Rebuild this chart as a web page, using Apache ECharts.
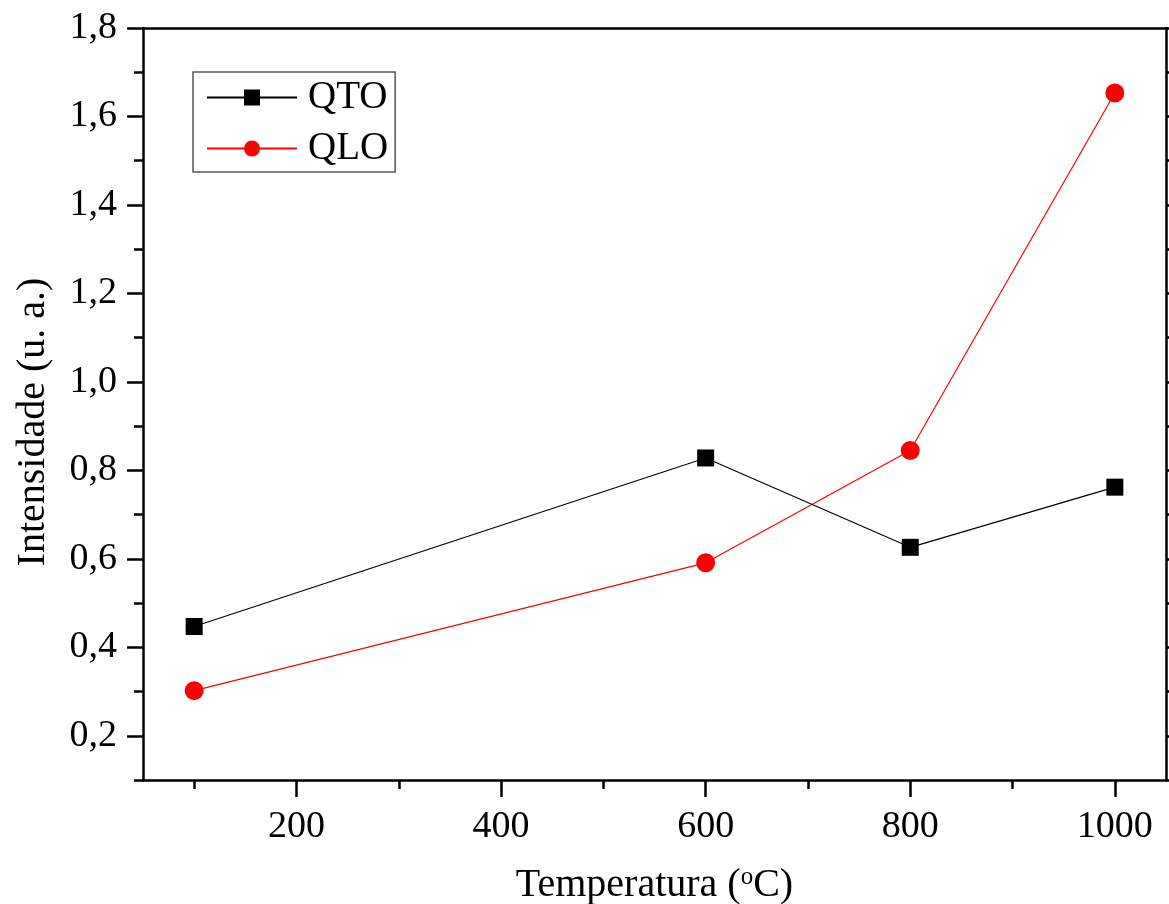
<!DOCTYPE html>
<html>
<head>
<meta charset="utf-8">
<title>Intensidade vs Temperatura</title>
<script src="https://cdn.jsdelivr.net/npm/echarts@6/dist/echarts.min.js"></script>
<style>
  html, body { margin: 0; padding: 0; background: #fff; }
  #chart { width: 1169px; height: 904px; }
</style>
</head>
<body>
<div id="chart"></div>
<script>
// Temperatures (°C) and measured intensities (a.u.)
const temperatures = [100, 600, 800, 1000];
const qtoValues = [0.447, 0.828, 0.626, 0.762];
const qloValues = [0.302, 0.591, 0.845, 1.653];

// Axis ticks
const xMajorTicks = [200, 400, 600, 800, 1000];
const xMinorTicks = [100, 300, 500, 700, 900];
const yMajorTicks = [0.2, 0.4, 0.6, 0.8, 1.0, 1.2, 1.4, 1.6, 1.8];
const yMinorTicks = [0.1, 0.3, 0.5, 0.7, 0.9, 1.1, 1.3, 1.5, 1.7];

const X_MIN = 50, X_MAX = 1050;
const Y_MIN = 0.1, Y_MAX = 1.8;

const FONT = '"Liberation Serif", "Times New Roman", serif';
const AXIS_W = 2.5;

function pairs(xs, ys) {
  return xs.map((x, i) => [x, ys[i]]);
}

const chart = echarts.init(document.getElementById('chart'), null, { renderer: 'canvas' });

const lineStyleAxis = { color: '#000', width: AXIS_W };

chart.setOption({
  backgroundColor: '#fff',
  animation: false,
  grid: { left: 143, right: 3, top: 28, bottom: 124, containLabel: false, outerBoundsMode: 'none' },
  legend: {
    orient: 'vertical',
    left: 193,
    top: 72,
    padding: [6, 7, 4, 13],
    itemWidth: 90,
    itemHeight: 20,
    itemGap: 12,
    borderColor: '#555',
    borderWidth: 1.5,
    textStyle: { fontFamily: FONT, fontSize: 39, color: '#000', padding: [0, 0, 0, 6] },
    data: ['QTO', 'QLO']
  },
  xAxis: [
    {
      type: 'value', position: 'bottom', min: X_MIN, max: X_MAX,
      axisLine: { show: true, lineStyle: lineStyleAxis },
      axisTick: { show: true, inside: false, length: 17, customValues: xMajorTicks, lineStyle: lineStyleAxis },
      axisLabel: {
        customValues: xMajorTicks, fontFamily: FONT, fontSize: 38, color: '#000', margin: 28,
        formatter: v => String(v)
      },
      splitLine: { show: false },
      name: 'Temperatura ({sup|o}C)',
      nameLocation: 'middle',
      nameGap: 85,
      nameTextStyle: {
        fontFamily: FONT, fontSize: 40, color: '#000',
        rich: { sup: { fontFamily: FONT, fontSize: 25, color: '#000', verticalAlign: 'top', padding: [0, 0, 14, 0] } }
      }
    },
    {
      type: 'value', position: 'bottom', min: X_MIN, max: X_MAX,
      axisLine: { show: false },
      axisTick: { show: true, inside: false, length: 9, customValues: xMinorTicks, lineStyle: lineStyleAxis },
      axisLabel: { show: false },
      splitLine: { show: false }
    },
    {
      type: 'value', position: 'top', min: X_MIN, max: X_MAX,
      axisLine: { show: true, lineStyle: lineStyleAxis },
      axisTick: { show: false },
      axisLabel: { show: false },
      splitLine: { show: false }
    }
  ],
  yAxis: [
    {
      type: 'value', position: 'left', min: Y_MIN, max: Y_MAX,
      axisLine: { show: true, lineStyle: lineStyleAxis },
      axisTick: { show: true, inside: false, length: 16, customValues: yMajorTicks, lineStyle: lineStyleAxis },
      axisLabel: {
        customValues: yMajorTicks, fontFamily: FONT, fontSize: 38, color: '#000', margin: 26,
        formatter: v => v.toFixed(1).replace('.', ',')
      },
      splitLine: { show: false },
      name: 'Intensidade (u. a.)',
      nameLocation: 'middle',
      nameGap: 90,
      nameTextStyle: { fontFamily: FONT, fontSize: 40, color: '#000', padding: [0, 36, 0, 0] }
    },
    {
      type: 'value', position: 'left', min: Y_MIN, max: Y_MAX,
      axisLine: { show: false },
      axisTick: { show: true, inside: false, length: 9, customValues: yMinorTicks, lineStyle: lineStyleAxis },
      axisLabel: { show: false },
      splitLine: { show: false }
    },
    {
      type: 'value', position: 'right', min: Y_MIN, max: Y_MAX,
      axisLine: { show: true, lineStyle: lineStyleAxis },
      axisTick: { show: true, inside: false, length: 9, customValues: yMajorTicks.concat(yMinorTicks), lineStyle: lineStyleAxis },
      axisLabel: { show: false },
      splitLine: { show: false }
    }
  ],
  series: [
    {
      name: 'QTO', type: 'line', xAxisIndex: 0, yAxisIndex: 0,
      data: pairs(temperatures, qtoValues),
      symbol: 'rect', symbolSize: 17,
      itemStyle: { color: '#000' },
      lineStyle: { color: '#000', width: 1.2 },
      z: 3
    },
    {
      name: 'QLO', type: 'line', xAxisIndex: 0, yAxisIndex: 0,
      data: pairs(temperatures, qloValues),
      symbol: 'circle', symbolSize: 19,
      itemStyle: { color: '#ff0000' },
      lineStyle: { color: '#ff0000', width: 1.2 },
      z: 2
    }
  ]
});
</script>
</body>
</html>
